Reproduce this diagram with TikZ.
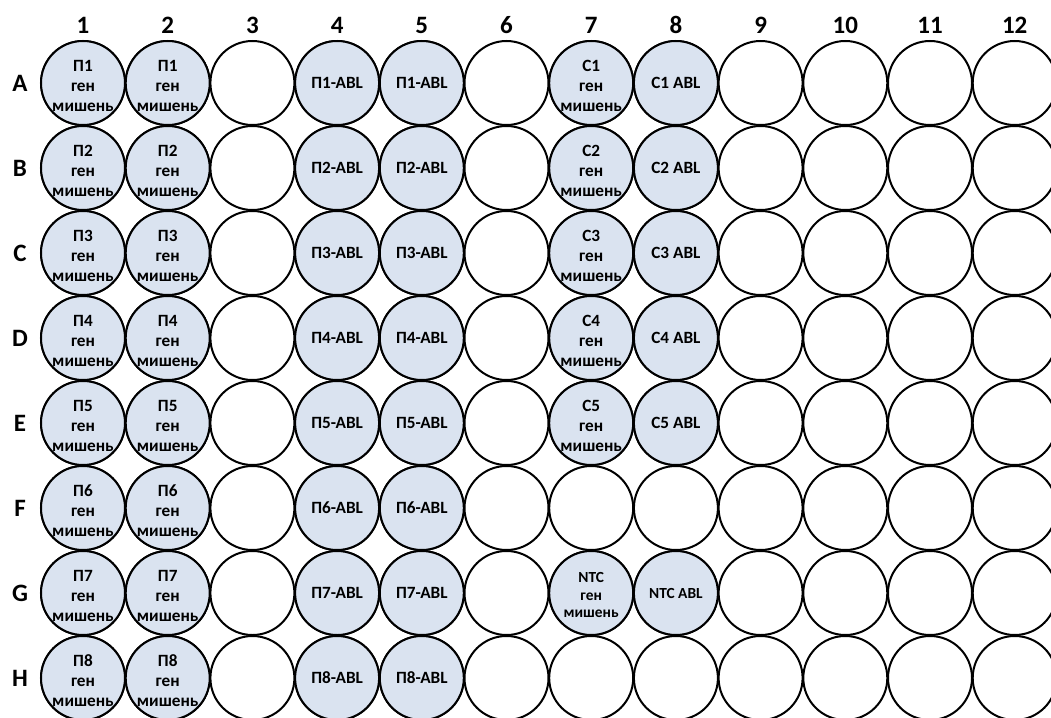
\documentclass[tikz,border=0pt]{standalone}
\usepackage{fontspec}
\setmainfont{Carlito}
\definecolor{wellfill}{RGB}{218,227,240}
\begin{document}
\begin{tikzpicture}[x=1pt,y=-1pt,
  well/.style={circle,draw=black,line width=2pt,minimum size=84pt,inner sep=0pt,fill=white},
  filled/.style={well,fill=wellfill},
  wtxt/.style={font=\bfseries\fontsize{17.2}{20}\selectfont,align=center,inner sep=0pt,yshift=-3pt},
  ltxt/.style={font=\bfseries\fontsize{17.2}{20}\selectfont,inner sep=0pt},
  stxt/.style={font=\bfseries\fontsize{15.4}{17.5}\selectfont,align=center,inner sep=0pt,yshift=-2pt},
  sltxt/.style={font=\bfseries\fontsize{15.4}{17.5}\selectfont,inner sep=0pt},
  hdr/.style={font=\bfseries\fontsize{25}{28}\selectfont,inner sep=0pt,text height=15pt,text depth=0pt}]
\useasboundingbox (0,0) rectangle (1051,717);
\begin{scope}
\clip (0,0) rectangle (1051,717);
% headers
\foreach \c in {1,...,12}{
  \node[hdr] (col\c) at ({83+84.7*(\c-1)},26) {\c};
}
\foreach \r/\L in {1/A,2/B,3/C,4/D,5/E,6/F,7/G,8/H}{
  \node[hdr] (row\L) at (20,{84+85*(\r-1)}) {\L};
}
% all wells empty by default
\foreach \r in {1,...,8}{
  \foreach \c in {1,...,12}{
    \node[well] (w\r-\c) at ({83+84.7*(\c-1)},{83+85*(\r-1)}) {};
  }
}
% filled wells, columns 1,2,4,5 (all rows) and 7,8 (rows A-E, G)
\foreach \r in {1,...,8}{
  \foreach \c in {1,2,4,5}{
    \node[filled] (f\r-\c) at (w\r-\c.center) {};
  }
}
\foreach \r in {1,2,3,4,5,7}{
  \foreach \c in {7,8}{
    \node[filled] (f\r-\c) at (w\r-\c.center) {};
  }
}
% texts
\foreach \r in {1,...,8}{
  \foreach \c in {1,2}{
    \node[wtxt] (t\r-\c) at (f\r-\c.center) {П\r\\ген\\мишень};
  }
  \foreach \c in {4,5}{
    \node[ltxt] (t\r-\c) at (f\r-\c.center) {П\r-ABL};
  }
}
\foreach \r in {1,...,5}{
  \node[wtxt] (t\r-7) at (f\r-7.center) {C\r\\ген\\мишень};
  \node[ltxt] (t\r-8) at (f\r-8.center) {C\r{} ABL};
}
\node[stxt] (t7-7) at (f7-7.center) {NTC\\ген\\мишень};
\node[sltxt] (t7-8) at (f7-8.center) {NTC ABL};
\end{scope}
\end{tikzpicture}
\end{document}
